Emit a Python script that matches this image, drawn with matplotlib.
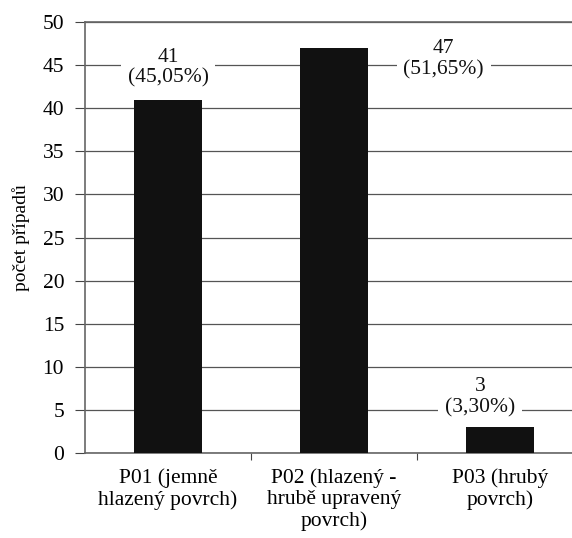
import matplotlib
matplotlib.use("Agg")
import matplotlib.pyplot as plt

categories = ["P01 (jemně\nhlazený povrch)", "P02 (hlazený -\nhrubě upravený\npovrch)", "P03 (hrubý\npovrch)"]
values = [41, 47, 3]
labels = ["41\n(45,05%)", "47\n(51,65%)", "3\n(3,30%)"]
label_pos = [(0.0, 44.7), (1.66, 45.7), (1.88, 6.45)]
yticks = list(range(0, 51, 5))

plt.rcParams['font.family'] = ['Liberation Serif', 'DejaVu Serif']

fig = plt.figure(figsize=(5.72, 5.38), dpi=100)
ax = fig.add_axes([0.1486, 0.158, 0.871, 0.801])

x = list(range(len(categories)))
ax.bar(x, values, width=0.41, color='#111111', zorder=3)

ax.set_xlim(-0.5, 2.5)
ax.set_ylim(0, 50)
ax.set_yticks(yticks)
ax.set_yticklabels([str(t) for t in yticks], fontsize=15.5)
ax.yaxis.grid(True, color='#555555', linewidth=0.9, zorder=0)
ax.set_axisbelow(True)

ax.set_xticks([0.5, 1.5, 2.5])
ax.set_xticklabels([])
ax.set_xticks(x, minor=True)
ax.set_xticklabels(categories, minor=True, fontsize=15.5, linespacing=1.15)
ax.tick_params(axis='x', which='minor', length=0, pad=11)
ax.tick_params(axis='x', which='major', length=5, color='#444444')
ax.tick_params(axis='y', length=7, color='#444444', pad=8)

ax.spines['right'].set_visible(False)
for side in ['left', 'top', 'bottom']:
    ax.spines[side].set_color('#666666')
    ax.spines[side].set_linestyle((0, (1, 1)))
    ax.spines[side].set_linewidth(1.2)

for (lx, ly), t in zip(label_pos, labels):
    ax.text(lx, ly, t, ha='center', va='center', fontsize=15.5, linespacing=1.15,
            color='#111111', zorder=5,
            bbox=dict(facecolor='white', edgecolor='none', pad=5))

ax.set_ylabel("počet případů", fontsize=14, labelpad=9)

fig.savefig("out.png", dpi=100)
